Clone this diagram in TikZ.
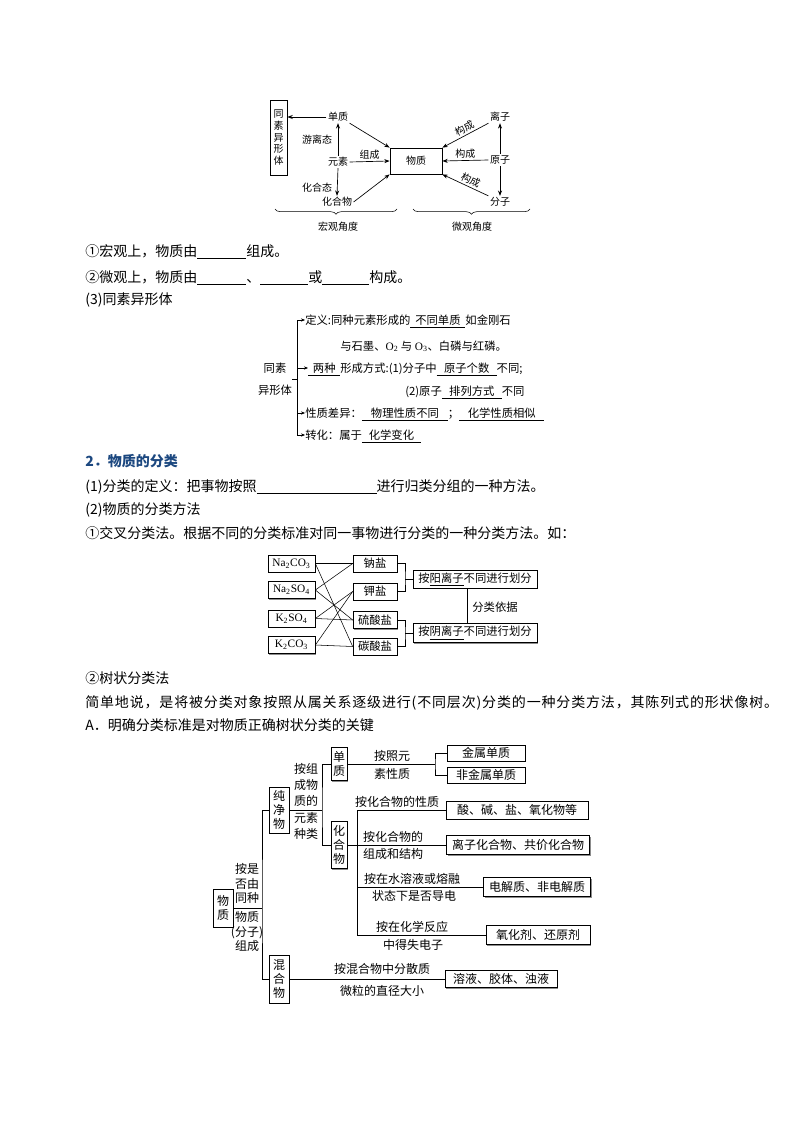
\documentclass[tikz,border=0pt]{standalone}
\usepackage{fontspec}
\setmainfont{Noto Sans CJK SC}
\newfontfamily\tnr{Liberation Serif}
\usetikzlibrary{arrows.meta,shadows,decorations.pathreplacing}
\definecolor{headblue}{RGB}{28,72,128}
\newlength\pxu \setlength\pxu{0.75pt}
% blanks and filled answers
\newcommand\blank[1]{\rule[-1.5pt]{#1\pxu}{0.5pt}}
\newcommand\ans[2]{\underline{\makebox[#1\pxu]{#2}}}

\begin{document}
\begin{tikzpicture}[x=0.75pt,y=-0.75pt,
    body/.style={anchor=west,inner sep=0pt,text height=9.2pt,text depth=1.3pt,font=\fontsize{10.5}{13}\selectfont},
    lbl/.style={inner sep=1pt,font=\fontsize{7.5}{8.8}\selectfont},
    arr/.style={-{Stealth[length=4pt,width=3pt]},line width=0.5pt},
    sarr/.style={-{Stealth[length=3pt,width=2.4pt]},line width=0.4pt},
    sz/.style 2 args={minimum width=#1*0.75pt,minimum height=#2*0.75pt},
    row/.style={anchor=west,inner sep=0pt,text height=7.5pt,text depth=1pt,font=\fontsize{8.5}{10}\selectfont},
    cbox/.style={draw,fill=white,line width=0.5pt,inner sep=0pt,font=\fontsize{8.5}{10}\selectfont,
        drop shadow={shadow xshift=0.8pt,shadow yshift=-0.8pt,fill=black!45,opacity=1}},
    tbox/.style={cbox,align=center,font=\fontsize{9}{10.5}\selectfont},
    tlbl/.style={inner sep=0pt,align=center,font=\fontsize{9}{11}\selectfont}]
\fill[white] (0,0) rectangle (794,1123);
\useasboundingbox (0,0) rectangle (794,1123);

% macro / micro view
\node[draw,line width=0.6pt,sz={17}{75},align=center,inner sep=0pt,font=\fontsize{7.5}{8.8}\selectfont] (txt) at (278.5,137.5) {同\\素\\异\\形\\体};
\node[lbl] (dz) at (338,117) {单质};
\node[lbl] (ys) at (338,162) {元素};
\node[lbl] (hhw) at (337,202) {化合物};
\node[draw,line width=0.6pt,sz={52}{26},font=\fontsize{7.5}{9}\selectfont] (wz) at (416,161) {物质};
\node[lbl] (lz) at (500,117) {离子};
\node[lbl] (yz) at (500,160) {原子};
\node[lbl] (fz) at (500,202) {分子};
\node[lbl] (yl) at (317,140) {游离态};
\node[lbl] (hh) at (317,188) {化合态};
\draw[arr] (dz.west) -- (dz.west -| txt.east);
\draw[arr] (ys.north) -- (dz.south);
\draw[arr] (ys.south) -- (hhw.north);
\draw[arr] (ys.east) -- (wz.west) node[midway,above,lbl] (zc) {组成};
\draw[arr] (dz.south east) -- (wz.north west);
\draw[arr] (hhw.east) -- (wz.south west);
\draw[arr] (yz.north) -- (lz.south);
\draw[arr] (yz.south) -- (fz.north);
\draw[arr] (lz.south west) -- (wz.north east) node[pos=0.45,sloped,above=1.5pt,lbl,inner sep=0pt] (gc1) {构成};
\draw[arr] (yz.west) -- (wz.east) node[midway,above,lbl] (gc2) {构成};
\draw[arr] (fz.north west) -- (wz.south east) node[pos=0.45,sloped,above=1.5pt,lbl,inner sep=0pt] (gc3) {构成};
\draw[decorate,decoration={brace,mirror,amplitude=4pt}] (275,209) -- (397,209);
\draw[decorate,decoration={brace,mirror,amplitude=4pt}] (413,209) -- (530,209);
\node[lbl] (hgjd) at (338,227) {宏观角度};
\node[lbl] (wgjd) at (472,227) {微观角度};

\node[body] (m1) at (85,251) {①宏观上，物质由\blank{49}组成。};
\node[body] (m2) at (85,277) {②微观上，物质由\blank{49}、\blank{48}或\blank{47}构成。};
\node[body] (m3) at (85,299) {(3)同素异形体};

% allotropes
\node[inner sep=0pt,align=center,font=\fontsize{8.5}{16.5}\selectfont] (tsl) at (275,379) {同素\\异形体};
\coordinate (sp) at (297,379);
\node[row] (dy) at (305,320) {定义:同种元素形成的\ans{55}{不同单质}如金刚石};
\node[row] (dy2) at (340,346) {与石墨、{\tnr O\textsubscript{2}} 与 {\tnr O\textsubscript{3}}、白磷与红磷。};
\node[row] (xc) at (308,368) {\ans{32}{两种}形成方式:(1)分子中\ans{60}{原子个数}不同;};
\node[row] (xc2) at (405,391) {(2)原子\ans{60}{排列方式}不同};
\node[row] (cy) at (305,413) {性质差异：\ans{86}{物理性质不同}；\ans{85}{化学性质相似}};
\node[row] (zh) at (305,435) {转化：属于\ans{59}{化学变化}};
\draw (tsl.east) -- (sp);
\draw (dy.west -| sp) -- (zh.west -| sp);
\foreach \r in {dy,xc,cy,zh}
    \draw[sarr] (\r.west -| sp) -- (\r.west);

\node[body,font=\fontsize{10.5}{13}\selectfont\bfseries,text=headblue] (h2) at (85,461) {2．物质的分类};
\node[body] (d1) at (85,486) {(1)分类的定义：把事物按照\blank{120}进行归类分组的一种方法。};
\node[body] (d2) at (85,509) {(2)物质的分类方法};
\node[body] (d3) at (85,533) {①交叉分类法。根据不同的分类标准对同一事物进行分类的一种分类方法。如：};

% cross classification
\node[cbox,sz={47}{17}] (nc) at (291.5,563.5) {\tnr Na\textsubscript{2}CO\textsubscript{3}};
\node[cbox,sz={47}{17}] (ns) at (291.5,590) {\tnr Na\textsubscript{2}SO\textsubscript{4}};
\node[cbox,sz={47}{17}] (ks) at (291.5,618.5) {\tnr K\textsubscript{2}SO\textsubscript{4}};
\node[cbox,sz={47}{17}] (kc) at (291.5,645) {\tnr K\textsubscript{2}CO\textsubscript{3}};
\node[cbox,sz={44}{17}] (nay) at (375,563.5) {钠盐};
\node[cbox,sz={44}{17}] (jy) at (375,591.5) {钾盐};
\node[cbox,sz={44}{17}] (lsy) at (375,620) {硫酸盐};
\node[cbox,sz={44}{17}] (tsy) at (375,646.5) {碳酸盐};
\node[cbox,sz={124}{18}] (yang) at (475,579) {按\underline{阳离子}不同进行划分};
\node[cbox,sz={124}{19}] (yin) at (475,633) {按\underline{阴离子}不同进行划分};
\node[inner sep=0pt,font=\fontsize{8.5}{10}\selectfont] (flyj) at (495,607) {分类依据};
\foreach \a/\b in {nc/nay,nc/tsy,ns/nay,ns/lsy,ks/jy,ks/lsy,kc/jy,kc/tsy}
    \draw (\a.east) -- (\b.west);
\coordinate (k1) at (405,579);
\coordinate (k2) at (405,633);
\draw (nay.east) -| (k1) |- (jy.east);
\draw (k1) -- (yang.west);
\draw (lsy.east) -| (k2) |- (tsy.east);
\draw (k2) -- (yin.west);
\draw ([xshift=-6pt]yang.south) -- ([xshift=-6pt]yin.north);

\node[body] (s1) at (85,678) {②树状分类法};
\node[body,font=\fontsize{10.5}{13}\selectfont\addfontfeature{LetterSpace=6}] (s2) at (85,702) {简单地说，是将被分类对象按照从属关系逐级进行(不同层次)分类的一种分类方法，其陈列式的形状像树。};
\node[body] (s3) at (85,725) {A．明确分类标准是对物质正确树状分类的关键};

% tree classification
\node[tbox,sz={20}{38}] (wz2) at (223,908) {物\\质};
\node[tbox,sz={20}{46}] (cjw) at (279,810) {纯\\净\\物};
\node[tbox,sz={20}{48}] (hhw2) at (279,979) {混\\合\\物};
\coordinate (tk) at (262,908);
\draw (wz2.east) -- (tk);
\draw (cjw.west) -| (tk) |- (hhw2.west);
\node[tlbl,anchor=south] (q1) at (247,904) {按是\\否由\\同种};
\node[tlbl,anchor=north] (q2) at (247,911) {物质\\(分子)\\组成};

\node[tbox,sz={16}{33}] (dz2) at (339,764) {单\\质};
\node[tbox,sz={16}{47}] (hhw3) at (339,845) {化\\合\\物};
\coordinate (b2) at (322,810);
\draw (cjw.east) -- (b2);
\draw (dz2.west) -| (b2) |- (hhw3.west);
\node[tlbl,anchor=south,font=\fontsize{9}{12}\selectfont] (q3) at (306,807) {按组\\成物\\质的};
\node[tlbl,anchor=north,font=\fontsize{9}{12}\selectfont] (q4) at (306,812) {元素\\种类};

\coordinate (b3) at (435,764);
\node[tbox,sz={78}{16}] (jsdz) at (486,753) {金属单质};
\node[tbox,sz={78}{16}] (fjsdz) at (486,775) {非金属单质};
\draw (dz2.east) -- (b3);
\draw (jsdz.west) -| (b3) |- (fjsdz.west);
\node[tlbl,anchor=south] (q5) at (392,762) {按照元};
\node[tlbl,anchor=north] (q6) at (392,768) {素性质};

\coordinate (b4) at (357,935);
\node[tbox,sz={142}{18}] (sjy) at (517,810) {酸、碱、盐、氧化物等};
\node[tbox,sz={143}{19}] (lzhhw) at (518,845) {离子化合物、共价化合物};
\node[tbox,sz={107}{19}] (djz) at (537,887) {电解质、非电解质};
\node[tbox,sz={104}{19}] (yhj) at (538,935) {氧化剂、还原剂};
\draw (sjy.west) -| (b4) -- (yhj.west);
\draw (hhw3.east) -- (lzhhw.west);
\draw (djz.west) -- (djz.west -| b4);
\node[tlbl,anchor=south] (q7) at (397,808) {按化合物的性质};
\node[tlbl,anchor=south] (q8) at (393,843) {按化合物的};
\node[tlbl,anchor=north] (q9) at (393,848) {组成和结构};
\node[tlbl,anchor=south] (q10) at (412,885) {按在水溶液或熔融};
\node[tlbl,anchor=north] (q11) at (414,890) {状态下是否导电};
\node[tlbl,anchor=south] (q12) at (412,933) {按在化学反应};
\node[tlbl,anchor=north] (q13) at (413,939) {中得失电子};

\node[tbox,sz={112}{17}] (ryjt) at (501,979) {溶液、胶体、浊液};
\draw (hhw2.east) -- (ryjt.west);
\node[tlbl,anchor=south] (q14) at (382,975) {按混合物中分散质};
\node[tlbl,anchor=north] (q15) at (382,985) {微粒的直径大小};
\end{tikzpicture}
\end{document}
